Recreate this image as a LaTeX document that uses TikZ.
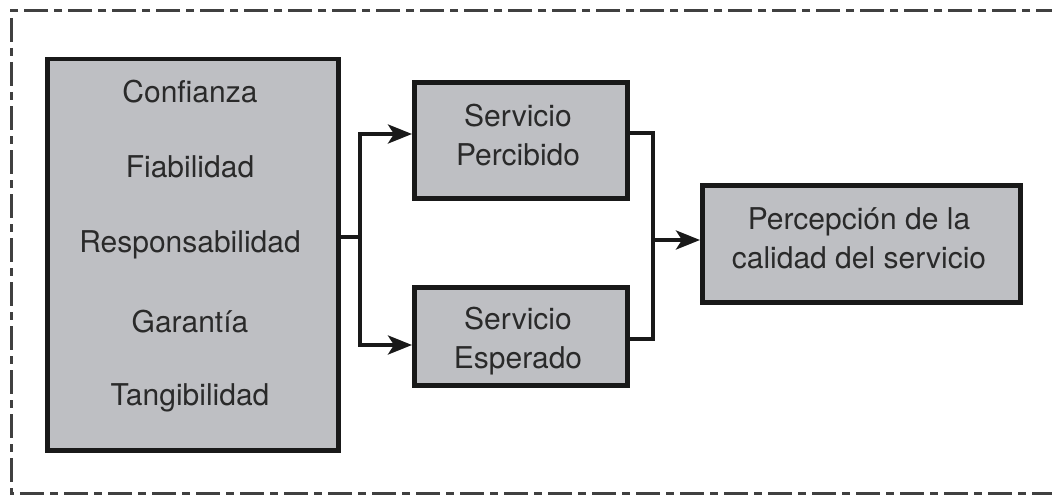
\documentclass[tikz,border=0pt]{standalone}
\usepackage{fontspec}
\setmainfont{TeX Gyre Heros}
\usetikzlibrary{arrows.meta}
\definecolor{boxgray}{HTML}{BEBFC3}
\definecolor{txt}{HTML}{2A2A2A}
\begin{document}
\begin{tikzpicture}[x=1pt,y=-1pt,
  lbl/.style={text=txt, font=\fontsize{30}{39}\selectfont, align=center, inner sep=0pt},
  box/.style={draw=black!90, line width=4.5pt, fill=boxgray, inner sep=0pt},
  conn/.style={line width=4pt, draw=black!90},
  arr/.style={conn, -{Stealth[length=24pt,width=19pt,inset=6pt]}},
  frame/.style={line width=3pt, draw=black!75, dash pattern=on 24pt off 6pt on 8pt off 6pt}]
\useasboundingbox (0,0) rectangle (1052,495);
\draw[frame] (1060,11) -- (11,11) -- (11,493) -- (1060,493);
\node[box, minimum width=291pt, minimum height=391pt, anchor=north west] (left) at (45,57) {};
\node[lbl] (t1) at (190,92) {Confianza};
\node[lbl] (t2) at (190,167) {Fiabilidad};
\node[lbl] (t3) at (190,245) {Responsabilidad};
\node[lbl] (t4) at (190,322) {Garantía};
\node[lbl] (t5) at (190,398) {Tangibilidad};
\node[box, minimum width=213pt, minimum height=116pt, anchor=north west] (perc) at (412,80) {};
\node[lbl] (perct) at (518,135) {Servicio\\Percibido};
\node[box, minimum width=213pt, minimum height=98pt, anchor=north west] (esp) at (412,285) {};
\node[lbl] (espt) at (518,341) {Servicio\\Esperado};
\node[box, minimum width=318pt, minimum height=117pt, anchor=north west] (cal) at (700,183) {};
\node[lbl] (calt) at (859,238) {Percepción de la\\calidad del servicio};
\coordinate (split) at (360,237);
\coordinate (join) at (653,240);
\draw[conn] (left.east |- split) -- (split);
\draw[arr] (split) |- (perc.west |- 0,134);
\draw[arr] (split) |- (esp.west |- 0,345);
\draw[conn] (perc.east |- 0,133) -| (join);
\draw[conn] (esp.east |- 0,339) -| (join);
\draw[arr] (join) -- (cal.west |- join);
\end{tikzpicture}
\end{document}
